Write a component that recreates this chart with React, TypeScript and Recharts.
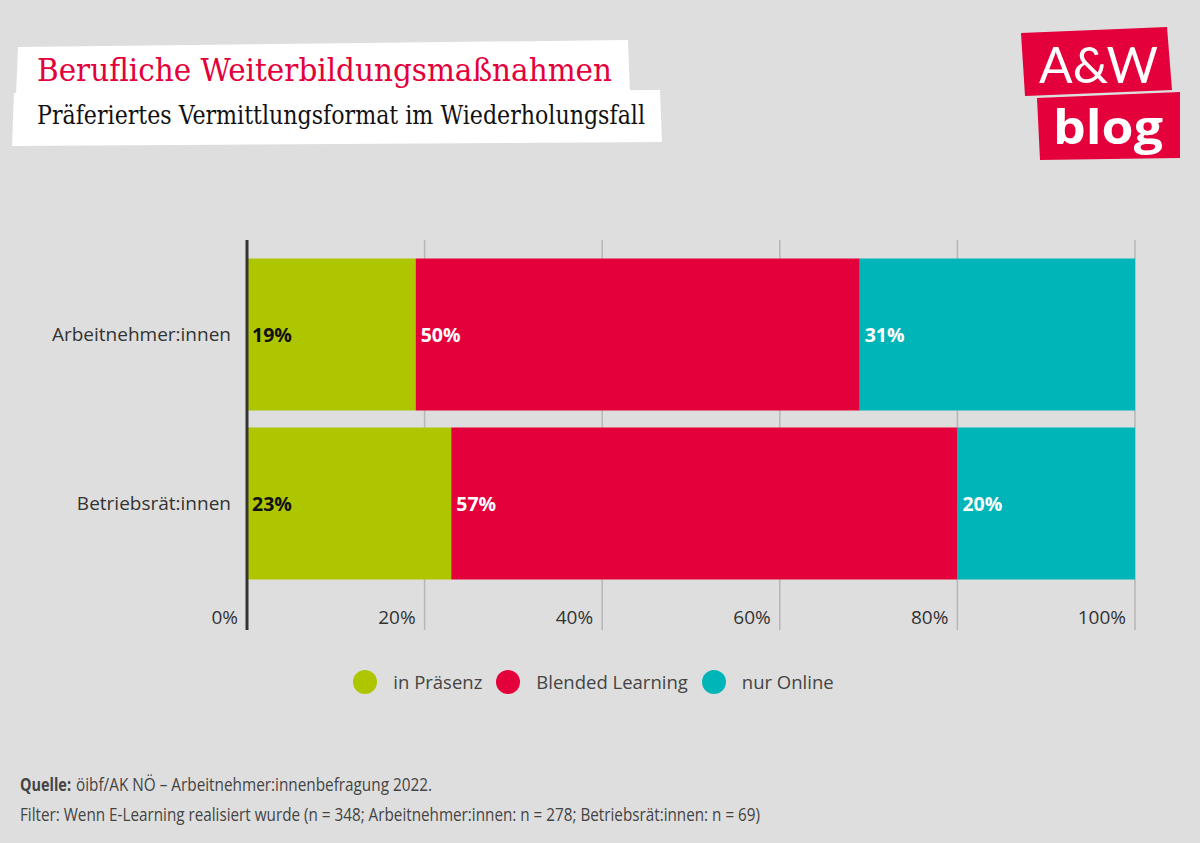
import React from 'react';
import { BarChart, Bar, XAxis, YAxis, CartesianGrid, Legend, LabelList } from 'recharts';

const categories = ['Arbeitnehmer:innen', 'Betriebsrät:innen'];
const praesenz = [19, 23];
const blended = [50, 57];
const online = [31, 20];
const xTicks = [0, 20, 40, 60, 80, 100];
const seriesNames = ['in Präsenz', 'Blended Learning', 'nur Online'];
const seriesColors = ['#aec600', '#e4003a', '#00b5b8'];
const labelColors = ['#111111', '#ffffff', '#ffffff'];

const data = categories.map((name, i) => ({
  name,
  praesenz: praesenz[i],
  blended: blended[i],
  online: online[i],
}));
const keys = ['praesenz', 'blended', 'online'];

const FONT = '"Open Sans", "Noto Sans", sans-serif';

const XTick = (props: any) => {
  const { x, y, payload } = props;
  return (
    <text x={x - 9} y={y - 6} textAnchor="end" fontFamily={FONT} fontSize={19} fill="#333">
      {payload.value}%
    </text>
  );
};

const YTick = (props: any) => {
  const { x, y, payload } = props;
  return (
    <text x={x - 16} y={y} textAnchor="end" dominantBaseline="central" fontFamily={FONT} fontSize={19} fill="#333">
      {payload.value}
    </text>
  );
};

const makeLabel = (color: string) => (props: any) => {
  const { x, y, height, value } = props;
  return (
    <text x={x + 5} y={y + height / 2} dominantBaseline="central" fontFamily={FONT} fontWeight={700} fontSize={19.5} fill={color}>
      {value}%
    </text>
  );
};

const LegendContent = () => (
  <div style={{ position: 'relative', height: 0, overflow: 'visible' }}>
    <div style={{ position: 'absolute', left: 0, width: 1200, top: 0, display: 'flex', justifyContent: 'center', paddingRight: 13, boxSizing: 'border-box' }}>
      {seriesNames.map((n, i) => (
        <div key={n} style={{ display: 'flex', alignItems: 'center', marginRight: i < 2 ? 14 : 0 }}>
          <div style={{ width: 24, height: 24, borderRadius: 12, background: seriesColors[i], marginRight: 16 }} />
          <span style={{ fontFamily: FONT, fontSize: 18.5, color: '#444', lineHeight: '24px' }}>{n}</span>
        </div>
      ))}
    </div>
  </div>
);

export default function App() {
  return (
    <div style={{ position: 'absolute', top: 0, left: 0, width: 1200, height: 843, background: '#dedede', overflow: 'hidden' }}>
      <BarChart
        width={1200}
        height={843}
        data={data}
        layout="vertical"
        margin={{ top: 240, right: 65, bottom: 183, left: 0 }}
      >
        <CartesianGrid horizontal={false} stroke="#b6b6b6" strokeWidth={1.5} />
        <XAxis
          type="number"
          domain={[0, 100]}
          ticks={xTicks}
          height={30}
          axisLine={false}
          tickLine={false}
          tickSize={0}
          tickMargin={0}
          tick={<XTick />}
          interval={0}
        />
        <YAxis
          type="category"
          dataKey="name"
          width={247}
          padding={{ top: 9.5, bottom: 42.5 }}
          tickLine={false}
          tickSize={0}
          tickMargin={0}
          axisLine={{ stroke: '#333', strokeWidth: 3 }}
          tick={<YTick />}
        />
        <Legend
          content={<LegendContent />}
          wrapperStyle={{ position: 'absolute', top: 670, left: 0, width: 1200, height: 0 }}
        />
        {keys.map((k, i) => (
          <Bar key={k} dataKey={k} name={seriesNames[i]} stackId="a" fill={seriesColors[i]} barSize={152} isAnimationActive={false}>
            <LabelList dataKey={k} content={makeLabel(labelColors[i])} />
          </Bar>
        ))}
      </BarChart>
      <svg width={1200} height={843} style={{ position: 'absolute', top: 0, left: 0, pointerEvents: 'none' }}>
        <polygon points="18,47 628,40 630,93 16,96" fill="#fff" />
        <polygon points="14,93 660,90 662,142 12,146" fill="#fff" />
        <text x={37} y={81} fontFamily='"DejaVu Serif Condensed", "DejaVu Serif", serif' fontSize={32} fill="#e4003a" textLength={575} lengthAdjust="spacingAndGlyphs">
          Berufliche Weiterbildungsmaßnahmen
        </text>
        <text x={37} y={124} fontFamily='"DejaVu Serif Condensed", "DejaVu Serif", serif' fontSize={26} fill="#111" textLength={608} lengthAdjust="spacingAndGlyphs">
          Präferiertes Vermittlungsformat im Wiederholungsfall
        </text>
        <polygon points="1021,33 1167,27 1172,90 1025,96" fill="#e4003a" />
        <polygon points="1037,98 1180,92 1180,158 1040,160" fill="#e4003a" />
        <text x={1039} y={83} fontFamily='Lato, "Open Sans", sans-serif' fontWeight={400} fontSize={50} fill="#fff" textLength={119} lengthAdjust="spacingAndGlyphs">
          A&amp;W
        </text>
        <text x={1053} y={144} fontFamily='"Open Sans", sans-serif' fontWeight={700} fontSize={47} fill="#fff" textLength={110} lengthAdjust="spacingAndGlyphs">
          blog
        </text>
        <text x={20} y={791} fontFamily='"Open Sans", sans-serif' fontWeight={700} fontSize={17.5} fill="#444" textLength={51} lengthAdjust="spacingAndGlyphs">
          Quelle:
        </text>
        <text x={76} y={791} fontFamily='"Open Sans", sans-serif' fontSize={17.5} fill="#444" textLength={356} lengthAdjust="spacingAndGlyphs">
          öibf/AK NÖ – Arbeitnehmer:innenbefragung 2022.
        </text>
        <text x={20} y={821} fontFamily='"Open Sans", sans-serif' fontSize={17.5} fill="#444" textLength={740} lengthAdjust="spacingAndGlyphs">
          Filter: Wenn E-Learning realisiert wurde (n = 348; Arbeitnehmer:innen: n = 278; Betriebsrät:innen: n = 69)
        </text>
      </svg>
    </div>
  );
}
